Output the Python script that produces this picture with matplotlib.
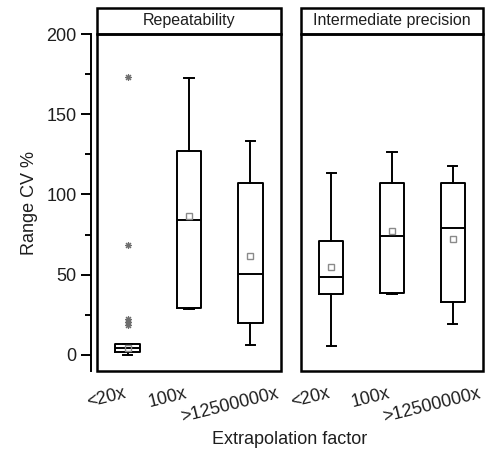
import matplotlib
matplotlib.use("Agg")
import matplotlib.pyplot as plt
from matplotlib.patches import Rectangle
from matplotlib.ticker import MultipleLocator
from matplotlib.transforms import ScaledTranslation

plt.rcParams['font.family'] = ['Liberation Sans', 'DejaVu Sans']

# =========================
# Data
# =========================
categories = ["<20x", "100x", ">12500000x"]
panel_titles = ["Repeatability", "Intermediate precision"]

# Repeatability
rep_q1 = [2.1, 29.1, 19.7]
rep_med = [4.5, 84.0, 50.5]
rep_q3 = [6.9, 127.3, 107.0]
rep_lo = [0.0, 28.5, 6.2]
rep_hi = [6.9, 172.5, 133.3]
rep_mean = [4.5, 86.6, 61.7]
rep_fliers = [[173.0, 68.5, 22.5, 20.5, 18.5], [], []]

# Intermediate precision
ip_q1 = [38.0, 38.8, 32.8]
ip_med = [48.5, 74.2, 79.0]
ip_q3 = [71.2, 107.0, 107.4]
ip_lo = [5.8, 38.2, 19.3]
ip_hi = [113.6, 126.7, 117.8]
ip_mean = [54.6, 77.5, 72.3]
ip_fliers = [[], [], []]


def make_stats(q1, med, q3, lo, hi, mean, fliers):
    # bxp wants one dict per box
    stats = []
    for i in range(len(q1)):
        stats.append(dict(q1=q1[i], med=med[i], q3=q3[i],
                          whislo=lo[i], whishi=hi[i],
                          mean=mean[i], fliers=fliers[i]))
    return stats


rep_stats = make_stats(rep_q1, rep_med, rep_q3, rep_lo, rep_hi, rep_mean, rep_fliers)
ip_stats = make_stats(ip_q1, ip_med, ip_q3, ip_lo, ip_hi, ip_mean, ip_fliers)

# =========================
# Figure
# =========================
fig = plt.figure(figsize=(4.91, 4.51), dpi=100)
ax1 = fig.add_axes([0.1976, 0.1774, 0.3747, 0.7472])
ax2 = fig.add_axes([0.613, 0.1774, 0.3707, 0.7472])

line_kw = dict(color='black', linewidth=1.4)
text_color = '#1e1e1e'

for ax, stats, title in [(ax1, rep_stats, panel_titles[0]),
                         (ax2, ip_stats, panel_titles[1])]:
    ax.bxp(stats, positions=[1, 2, 3], widths=0.4, capwidths=0.15,
           showmeans=True,
           boxprops=line_kw, whiskerprops=line_kw, capprops=line_kw,
           medianprops=line_kw,
           meanprops=dict(marker='s', markerfacecolor='none',
                          markeredgecolor='#8a8a8a', markersize=4,
                          markeredgewidth=1.0),
           flierprops=dict(marker=(8, 2, 0), markeredgecolor='#6e6e6e',
                           markersize=5, markeredgewidth=0.8,
                           linestyle='none'))
    ax.set_xlim(0.5, 3.5)
    ax.set_ylim(-10, 200)

    for s in ax.spines.values():
        s.set_visible(False)

    # panel frame and title strip
    ax.add_patch(Rectangle((0, 0), 1, 1, transform=ax.transAxes, fill=False,
                           linewidth=1.8, edgecolor='black', clip_on=False))
    ax.add_patch(Rectangle((0, 1), 1, 0.0772, transform=ax.transAxes, fill=False,
                           linewidth=1.8, edgecolor='black', clip_on=False))
    ax.text(0.5, 1.0386, title, transform=ax.transAxes, ha='center',
            va='center', fontsize=11.5, color=text_color)

    ax.set_xticks([1, 2, 3])
    ax.set_xticklabels(categories, rotation=14, fontsize=13, color=text_color)
    ax.tick_params(axis='x', length=0, pad=10)
    # labels sit a bit left of the box centres
    shift = ScaledTranslation(-0.21, 0, fig.dpi_scale_trans)
    for lab in ax.get_xticklabels():
        lab.set_transform(lab.get_transform() + shift)

# y axis only on the left panel, offset from the frame
ax1.spines['left'].set_visible(True)
ax1.spines['left'].set_position(('outward', 4.3))
ax1.spines['left'].set_linewidth(1.4)
ax1.yaxis.set_major_locator(MultipleLocator(50))
ax1.yaxis.set_minor_locator(MultipleLocator(25))
ax1.tick_params(axis='y', which='major', direction='out', length=7, width=1.4,
                labelsize=13, pad=3.5, labelcolor=text_color)
ax1.tick_params(axis='y', which='minor', direction='out', length=4.3, width=1.4)

ax2.tick_params(axis='y', which='both', left=False, labelleft=False)

fig.text(30 / 491, 1 - 203 / 451, "Range CV %", rotation=90, ha='center',
         va='center', fontsize=13, color=text_color)
fig.text(290 / 491, 1 - 439 / 451, "Extrapolation factor", ha='center',
         va='center', fontsize=13, color=text_color)

fig.savefig("out.png", dpi=100)
plt.close(fig)
